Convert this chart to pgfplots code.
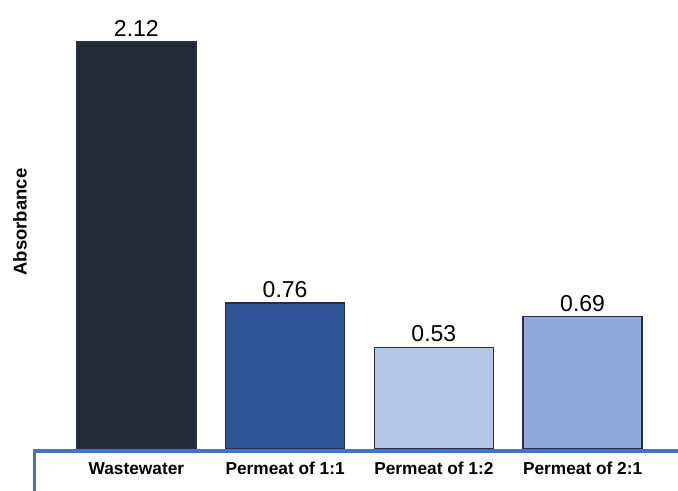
\documentclass[border=0pt]{standalone}
\usepackage{pgfplots}
\pgfplotsset{compat=1.18}
\usepackage{fontspec}
\setmainfont{Liberation Sans}
\definecolor{barDark}{HTML}{232A35}
\definecolor{barMid}{HTML}{2F5597}
\definecolor{barPale}{HTML}{B4C7E7}
\definecolor{barLight}{HTML}{8FAADC}
\definecolor{barEdge}{HTML}{263042}
\definecolor{frameBlue}{HTML}{4472C4}
\begin{document}
\begin{tikzpicture}
\useasboundingbox (0,0) rectangle (678bp,491bp);
\begin{axis}[
  at={(62bp,42bp)}, anchor=south west,
  scale only axis,
  width=595bp, height=407bp,
  xmin=-0.5, xmax=3.5,
  ymin=0, ymax=2.12,
  clip=false,
  ybar, bar width=0.8,
  hide y axis,
  axis x line*=bottom,
  x axis line style={draw=black!25, line width=0.8bp, -},
  xtick={0,1,2,3},
  xticklabels={Wastewater, Permeat of 1:1, Permeat of 1:2, Permeat of 2:1},
  major tick length=0pt,
  xticklabel style={font=\fontsize{17.3bp}{20bp}\selectfont\bfseries, anchor=base, yshift=-25.5bp},
  point meta=explicit symbolic,
  nodes near coords,
  every node near coord/.append style={font=\fontsize{23bp}{26bp}\selectfont, anchor=base, yshift=5.5bp, inner sep=0pt, text=black},
  every axis plot/.append style={bar shift=0pt, draw=barEdge, line width=1.4bp},
]
\addplot[fill=barDark]  coordinates {(0,2.12) [2.12]};
\addplot[fill=barMid]   coordinates {(1,0.76) [0.76]};
\addplot[fill=barPale]  coordinates {(2,0.53) [0.53]};
\addplot[fill=barLight] coordinates {(3,0.69) [0.69]};
\end{axis}
% frame line along the bottom, turning down at the left
\draw[frameBlue, line width=3.5bp] (34.7bp,0) -- (34.7bp,40bp) -- (678bp,40bp);
\node[rotate=90, font=\fontsize{18.5bp}{21bp}\selectfont\bfseries] at (20bp,269bp) {Absorbance};
\end{tikzpicture}
\end{document}
